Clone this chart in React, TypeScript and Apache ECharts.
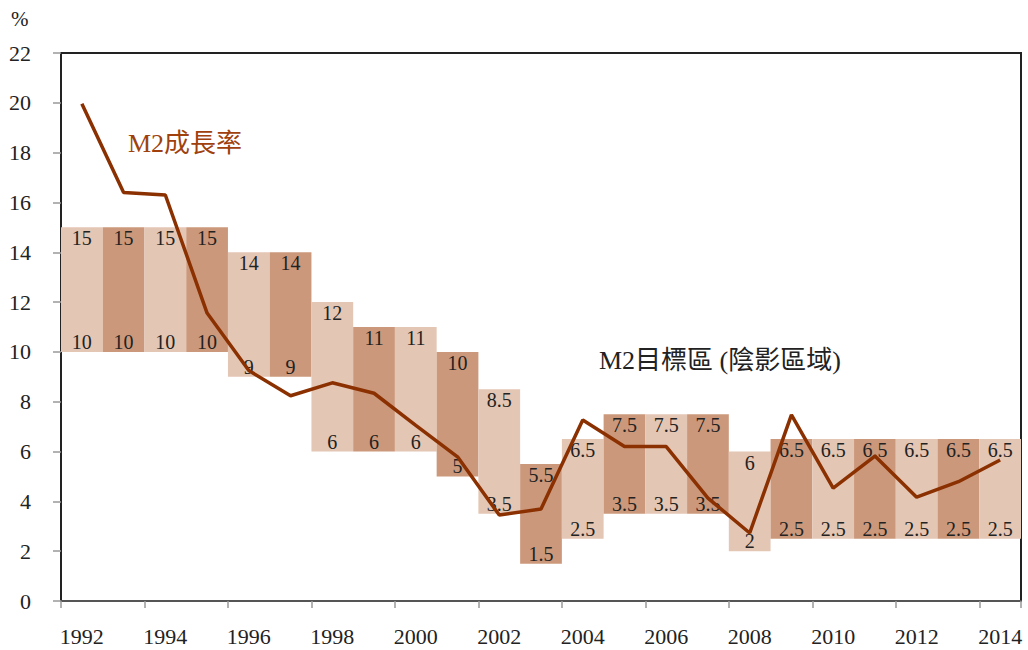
import React, { useEffect, useRef } from "react";
import * as echarts from "echarts";

const years = [
  "1992", "1993", "1994", "1995", "1996", "1997", "1998", "1999", "2000", "2001", "2002",
  "2003", "2004", "2005", "2006", "2007", "2008", "2009", "2010", "2011", "2012", "2013", "2014",
];
const targetLow = [10, 10, 10, 10, 9, 9, 6, 6, 6, 5, 3.5, 1.5, 2.5, 3.5, 3.5, 3.5, 2, 2.5, 2.5, 2.5, 2.5, 2.5, 2.5];
const targetHigh = [15, 15, 15, 15, 14, 14, 12, 11, 11, 10, 8.5, 5.5, 6.5, 7.5, 7.5, 7.5, 6, 6.5, 6.5, 6.5, 6.5, 6.5, 6.5];
const m2Growth = [
  19.96, 16.4, 16.3, 11.56, 9.25, 8.24, 8.76, 8.34, 7.05, 5.79, 3.45,
  3.69, 7.27, 6.2, 6.2, 4.13, 2.73, 7.47, 4.53, 5.82, 4.17, 4.79, 5.66,
];
const yTicks = { min: 0, max: 22, interval: 2 };

const LIGHT = "#E4C6B4";
const DARK = "#CC987B";
const LINE = "#8B3000";
const FONT = "'Times New Roman', 'Liberation Serif', 'Noto Sans CJK TC', serif";

export default function App() {
  const ref = useRef<HTMLDivElement>(null);
  useEffect(() => {
    document.body.style.margin = "0";
    if (!ref.current) return;
    const chart = echarts.init(ref.current, null, { renderer: "svg" });
    const spanData = targetHigh.map((h, i) => ({
      value: h - targetLow[i],
      itemStyle: { color: i % 2 === 0 ? LIGHT : DARK },
      label: { formatter: String(h) },
    }));
    const baseData = targetLow.map((l) => ({ value: l, label: { formatter: String(l) } }));
    chart.setOption({
      animation: false,
      grid: {
        left: 61,
        right: 7,
        top: 53,
        bottom: 49,
        show: true,
        borderColor: "#222",
        borderWidth: 2,
        backgroundColor: "transparent",
      },
      graphic: [
        {
          type: "text",
          left: 11,
          top: 8,
          style: { text: "%", fontSize: 21, fontFamily: FONT, fill: "#222" },
        },
        {
          type: "text",
          left: 128,
          top: 130,
          style: { text: "M2成長率", fontSize: 26, fontFamily: FONT, fill: "#A0410D" },
        },
        {
          type: "text",
          left: 599,
          top: 347,
          style: { text: "M2目標區 (陰影區域)", fontSize: 26, fontFamily: FONT, fill: "#222" },
        },
      ],
      xAxis: {
        type: "category",
        data: years,
        boundaryGap: true,
        axisLine: { show: true, lineStyle: { color: "#555", width: 2 } },
        axisTick: { show: true, interval: 1, length: 7, lineStyle: { color: "#999", width: 1.5 } },
        axisLabel: {
          interval: 1,
          margin: 24,
          fontSize: 22,
          fontFamily: FONT,
          color: "#222",
        },
        splitLine: { show: false },
      },
      yAxis: {
        type: "value",
        min: yTicks.min,
        max: yTicks.max,
        interval: yTicks.interval,
        axisLine: { show: true, lineStyle: { color: "#222", width: 2 } },
        axisTick: { show: true, length: 8, lineStyle: { color: "#999", width: 1.5 } },
        axisLabel: { margin: 30, fontSize: 22, fontFamily: FONT, color: "#222" },
        splitLine: { show: false },
      },
      series: [
        {
          type: "bar",
          stack: "target",
          data: baseData,
          barCategoryGap: "0%",
          itemStyle: { color: "transparent" },
          label: {
            show: true,
            position: "top",
            distance: 0,
            fontSize: 20,
            fontFamily: FONT,
            color: "#222",
          },
          silent: true,
          z: 3,
        },
        {
          type: "bar",
          stack: "target",
          data: spanData,
          barCategoryGap: "0%",
          label: {
            show: true,
            position: "insideTop",
            distance: 1,
            fontSize: 20,
            fontFamily: FONT,
            color: "#222",
          },
          z: 2,
        },
        {
          type: "line",
          data: m2Growth,
          symbol: "none",
          lineStyle: { color: LINE, width: 3.5 },
          z: 5,
        },
      ],
    });
    return () => chart.dispose();
  }, []);
  return <div ref={ref} style={{ width: 1028, height: 650 }} />;
}
